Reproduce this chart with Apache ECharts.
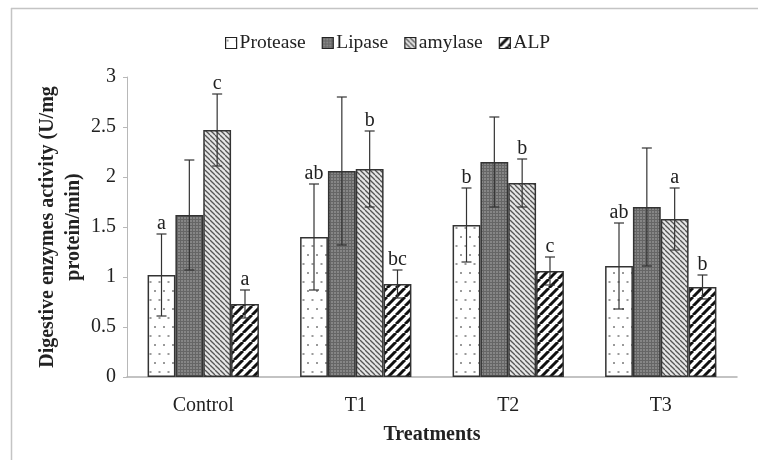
<!DOCTYPE html>
<html>
<head>
<meta charset="utf-8">
<script src="https://cdn.jsdelivr.net/npm/echarts@6/dist/echarts.min.js"></script>
<style>
  html, body { margin: 0; padding: 0; background: #fff; }
  #chart { width: 758px; height: 460px; }
</style>
</head>
<body>
<div id="chart"></div>
<script>
// data
const categories = ['Control', 'T1', 'T2', 'T3'];
const enzymes = ['Protease', 'Lipase', 'amylase', 'ALP'];
const protease = [1.02, 1.40, 1.52, 1.11];
const lipase = [1.62, 2.06, 2.15, 1.70];
const amylase = [2.47, 2.08, 1.94, 1.58];
const alp = [0.73, 0.93, 1.06, 0.90];
const proteaseErr = [0.41, 0.53, 0.37, 0.43];
const lipaseErr = [0.55, 0.74, 0.45, 0.59];
const amylaseErr = [0.36, 0.38, 0.24, 0.31];
const alpErr = [0.14, 0.14, 0.14, 0.12];
const proteaseLetters = ['a', 'ab', 'b', 'ab'];
const lipaseLetters = ['', '', '', ''];
const amylaseLetters = ['c', 'b', 'b', 'a'];
const alpLetters = ['a', 'bc', 'c', 'b'];
const yTicks = [0, 0.5, 1, 1.5, 2, 2.5, 3];

const means = [protease, lipase, amylase, alp];
const errs = [proteaseErr, lipaseErr, amylaseErr, alpErr];
const letters = [proteaseLetters, lipaseLetters, amylaseLetters, alpLetters];

const FONT = '"Liberation Serif", "Times New Roman", serif';
const CAT_GAP = 0.27;

// hatch / dot fills like the excel patterns
function makePattern(kind) {
  const c = document.createElement('canvas');
  const ctx = c.getContext('2d');
  if (kind === 'dots') {
    c.width = 9; c.height = 18;
    ctx.fillStyle = '#ffffff';
    ctx.fillRect(0, 0, 9, 18);
    ctx.fillStyle = '#9a9a9a';
    ctx.fillRect(1, 2, 2, 2);
    ctx.fillRect(5.5, 11, 2, 2);
  } else if (kind === 'grid') {
    c.width = 3; c.height = 3;
    ctx.fillStyle = '#868686';
    ctx.fillRect(0, 0, 3, 3);
    ctx.fillStyle = '#666';
    ctx.fillRect(0, 0, 3, 1);
    ctx.fillRect(0, 0, 1, 3);
  } else if (kind === 'thin') {
    c.width = 5; c.height = 5;
    ctx.fillStyle = '#e6e6e6';
    ctx.fillRect(0, 0, 5, 5);
    ctx.strokeStyle = '#555';
    ctx.lineWidth = 1.3;
    for (let k = -5; k <= 10; k += 5) {
      ctx.beginPath();
      ctx.moveTo(k, 0);
      ctx.lineTo(k + 5, 5);
      ctx.stroke();
    }
  } else {
    c.width = 9; c.height = 9;
    ctx.fillStyle = '#ffffff';
    ctx.fillRect(0, 0, 9, 9);
    ctx.strokeStyle = '#111';
    ctx.lineWidth = 3;
    for (let k = -9; k <= 18; k += 9) {
      ctx.beginPath();
      ctx.moveTo(k, 9);
      ctx.lineTo(k + 9, 0);
      ctx.stroke();
    }
  }
  return { image: c, repeat: 'repeat' };
}

const fills = [makePattern('dots'), makePattern('grid'), makePattern('thin'), makePattern('wide')];

const barSeries = enzymes.map((name, i) => ({
  name: name,
  type: 'bar',
  barGap: '0%',
  barCategoryGap: (CAT_GAP * 100) + '%',
  data: means[i],
  itemStyle: { color: fills[i], borderColor: '#333', borderWidth: 1.5 },
  z: 2
}));

const errData = [];
means.forEach((arr, s) => {
  arr.forEach((v, c) => {
    errData.push([c, s, v, errs[s][c], letters[s][c]]);
  });
});

const errorSeries = {
  type: 'custom',
  name: 'err',
  data: errData,
  z: 5,
  encode: { x: 0, y: 2 },
  renderItem: function (params, api) {
    const cat = api.value(0);
    const s = api.value(1);
    const v = api.value(2);
    const e = api.value(3);
    const letter = errData[params.dataIndex][4];
    const bandW = api.size([1, 0])[0];
    const barW = bandW * (1 - CAT_GAP) / 4;
    const center = api.coord([cat, v]);
    const x = center[0] + (s - 1.5) * barW;
    const yHi = api.coord([cat, v + e])[1];
    const yLo = api.coord([cat, v - e])[1];
    const cap = 5;
    const style = { stroke: '#333', lineWidth: 1.2 };
    const children = [
      { type: 'line', shape: { x1: x, y1: yHi, x2: x, y2: yLo }, style: style },
      { type: 'line', shape: { x1: x - cap, y1: yHi, x2: x + cap, y2: yHi }, style: style },
      { type: 'line', shape: { x1: x - cap, y1: yLo, x2: x + cap, y2: yLo }, style: style }
    ];
    if (letter) {
      children.push({
        type: 'text',
        x: x,
        y: yHi,
        style: {
          text: letter,
          fill: '#222',
          font: '20px ' + FONT,
          align: 'center',
          verticalAlign: 'bottom'
        }
      });
    }
    return { type: 'group', children: children };
  }
};

const chart = echarts.init(document.getElementById('chart'), null, { renderer: 'canvas' });

chart.setOption({
  backgroundColor: '#ffffff',
  animation: false,
  textStyle: { fontFamily: FONT },
  graphic: [
    { type: 'line', shape: { x1: 11, y1: 8.5, x2: 758, y2: 8.5 }, style: { stroke: '#c4c4c4', lineWidth: 1.5 } },
    { type: 'line', shape: { x1: 11.5, y1: 8, x2: 11.5, y2: 460 }, style: { stroke: '#c4c4c4', lineWidth: 1.5 } }
  ],
  legend: {
    data: enzymes,
    left: 220,
    top: 28,
    itemWidth: 11,
    itemHeight: 11,
    itemGap: 16,
    icon: 'rect',
    textStyle: { fontFamily: FONT, fontSize: 19.5, color: '#222', padding: [0, 0, 0, -2] },
    itemStyle: { borderColor: '#222', borderWidth: 1.2 }
  },
  grid: { left: 127, right: 21, top: 77, bottom: 83 },
  xAxis: {
    type: 'category',
    data: categories,
    name: 'Treatments',
    nameLocation: 'middle',
    nameGap: 48,
    nameTextStyle: { fontFamily: FONT, fontSize: 20, fontWeight: 'bold', color: '#222' },
    axisLine: { lineStyle: { color: '#b0b0b0', width: 1.5 } },
    axisTick: { show: false },
    axisLabel: { fontFamily: FONT, fontSize: 20, color: '#222', margin: 19 }
  },
  yAxis: {
    type: 'value',
    min: yTicks[0],
    max: yTicks[yTicks.length - 1],
    interval: 0.5,
    name: 'Digestive enzymes activity (U/mg\nprotein/min)',
    nameLocation: 'middle',
    nameGap: 40,
    nameMoveOverlap: false,
    nameRotate: 90,
    nameTextStyle: { fontFamily: FONT, fontSize: 20, fontWeight: 'bold', color: '#222', lineHeight: 26 },
    axisLine: { show: true, lineStyle: { color: '#b8b8b8' } },
    axisTick: { show: true, length: 4, lineStyle: { color: '#b8b8b8' } },
    splitLine: { show: false },
    axisLabel: { fontFamily: FONT, fontSize: 20, color: '#222', margin: 11 }
  },
  series: barSeries.concat([errorSeries])
});
</script>
</body>
</html>
